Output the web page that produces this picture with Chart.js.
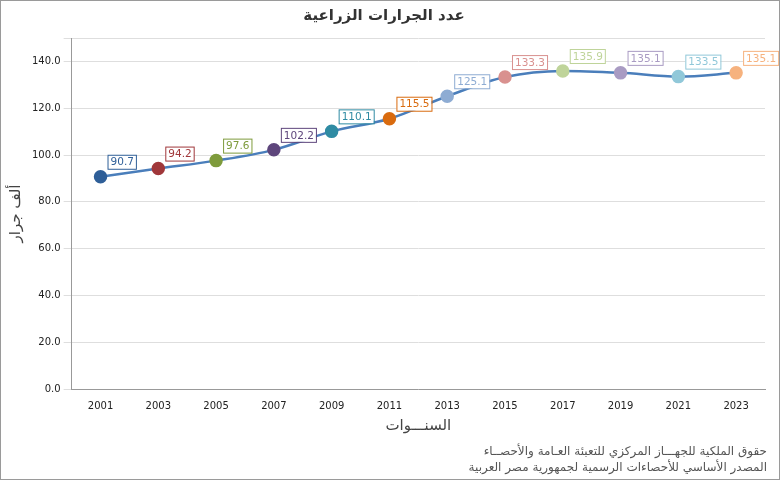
<!DOCTYPE html>
<html><head><meta charset="utf-8">
<script src="https://cdn.jsdelivr.net/npm/chart.js@4"></script>
<style>
html,body{margin:0;padding:0;background:#fff;}
#wrap{position:relative;width:778px;height:478px;border:1px solid #9a9a9a;}
#c{position:absolute;left:0;top:0;}
.foot{position:absolute;right:12px;font:12px "DejaVu Sans",sans-serif;color:#555;direction:rtl;text-align:right;}
</style></head><body>
<div id="wrap"><canvas id="c" width="778" height="478"></canvas>
<div class="foot" style="top:443px">حقوق الملكية للجهـــاز المركزي للتعبئة العـامة والأحصــاء</div>
<div class="foot" style="top:459px">المصدر الأساسي للأحصاءات الرسمية لجمهورية مصر العربية</div>
</div>
<script>
const years=["2001","2003","2005","2007","2009","2011","2013","2015","2017","2019","2021","2023"];
const values=[90.7,94.2,97.6,102.2,110.1,115.5,125.1,133.3,135.9,135.1,133.5,135.1];
const colors=["#2F5F98","#A0373A","#7E9B3C","#5E467C","#2F8BA3","#D96B0F","#8EACD3","#D9918F","#BFD49A","#A99BC3","#91C8D9","#F6B27E"];
const labelPlugin={id:"lbl",afterDatasetsDraw(chart){
 const ctx=chart.ctx;const meta=chart.getDatasetMeta(0);
 ctx.save();ctx.font="10.5px 'DejaVu Sans',sans-serif";ctx.textBaseline="middle";
 meta.data.forEach((p,i)=>{
  const t=values[i].toFixed(1);const w=ctx.measureText(t).width+5;const h=14;
  const x=p.x+7,y=p.y-22;
  ctx.fillStyle="#fff";ctx.fillRect(x,y,w,h);
  ctx.strokeStyle=colors[i];ctx.lineWidth=1;ctx.strokeRect(x+0.5,y+0.5,w,h);
  ctx.fillStyle=colors[i];ctx.fillText(t,x+3,y+h/2+1);
 });ctx.restore();}};
new Chart(document.getElementById("c"),{type:"line",
 data:{labels:years,datasets:[{data:values,borderColor:"#4A7EBB",borderWidth:2.5,tension:0.4,cubicInterpolationMode:"monotone",
  pointBackgroundColor:colors,pointBorderColor:colors,pointRadius:5.5,pointHoverRadius:5.5}]},
 options:{responsive:false,animation:false,devicePixelRatio:1,
  layout:{padding:{left:2,right:14,top:0,bottom:40}},
  plugins:{legend:{display:false},tooltip:{enabled:false},
   title:{display:true,text:"عدد الجرارات الزراعية",font:{family:"DejaVu Sans",size:15,weight:"bold"},color:"#333",padding:{top:6,bottom:13}}},
  scales:{
   x:{offset:true,grid:{display:false,drawTicks:true},border:{color:"#999"},
    ticks:{color:"#222",font:{family:"DejaVu Sans",size:10},maxRotation:0},
    title:{display:true,text:"السنـــوات",font:{family:"DejaVu Sans",size:15},color:"#444",padding:{top:2}}},
   y:{min:0,max:150,grid:{color:"#dedede"},border:{color:"#999"},
    ticks:{stepSize:20,color:"#222",font:{family:"DejaVu Sans",size:10},callback:v=>v>=150?"":v.toFixed(1)},
    title:{display:true,text:"ألف جرار",font:{family:"DejaVu Sans",size:15},color:"#444"}}}},
 plugins:[labelPlugin]});
</script></body></html>
